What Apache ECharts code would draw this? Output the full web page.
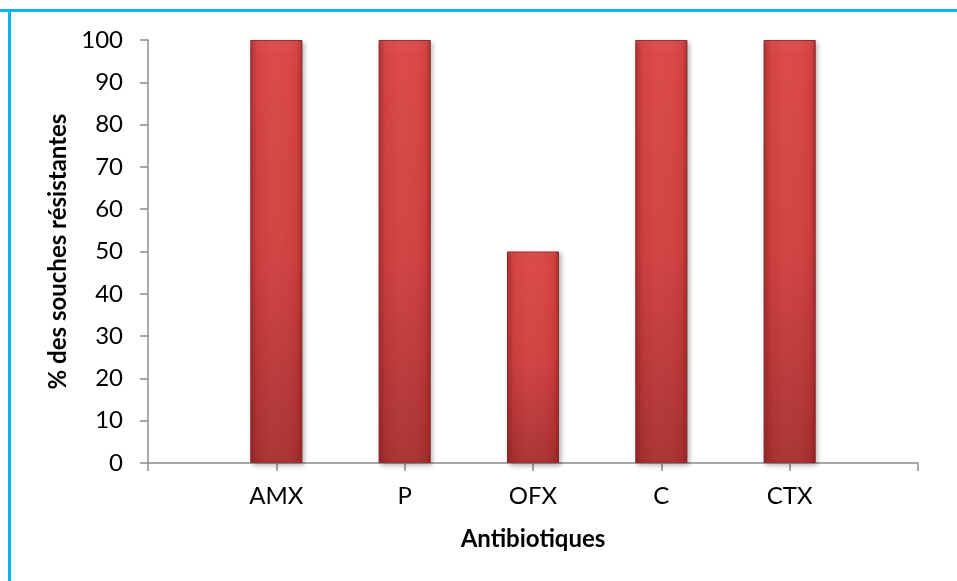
<!DOCTYPE html>
<html>
<head>
<meta charset="utf-8">
<script src="https://cdn.jsdelivr.net/npm/echarts@6/dist/echarts.min.js"></script>
<style>html,body{margin:0;padding:0;background:#fff;}#c{width:957px;height:581px;}</style>
</head>
<body>
<div id="c"></div>
<script>
const categories = ['', 'AMX', 'P', 'OFX', 'C', 'CTX', ''];
const resistance = [null, 100, 100, 50, 100, 100, null];
const yTicks = { min: 0, max: 100, interval: 10 };
const xTitle = 'Antibiotiques';
const yTitle = '% des souches résistantes';

const chart = echarts.init(document.getElementById('c'));
const font = 'Lato, "Open Sans", sans-serif';
chart.setOption({
  animation: false,
  backgroundColor: '#fff',
  grid: { left: 148, right: 39, top: 40, bottom: 118 },
  graphic: [
    { type: 'rect', shape: { x: 0, y: 9, width: 957, height: 3 }, style: { fill: '#0AB4F0' } },
    { type: 'rect', shape: { x: 8, y: 9, width: 3, height: 572 }, style: { fill: '#0AB4F0' } }
  ],
  xAxis: {
    type: 'category',
    data: categories,
    boundaryGap: false,
    name: xTitle,
    nameLocation: 'middle',
    nameGap: 64,
    nameTextStyle: { fontFamily: font, fontSize: 24, fontWeight: 'bold', color: '#000', verticalAlign: 'top' },
    axisLine: { lineStyle: { color: '#8C8C8C', width: 1.5 } },
    axisTick: { show: true, length: 8, interval: 0, lineStyle: { color: '#8C8C8C', width: 1.5 } },
    axisLabel: { interval: 0, margin: 21, fontFamily: font, fontSize: 24, color: '#000' },
    splitLine: { show: false }
  },
  yAxis: {
    type: 'value',
    min: yTicks.min, max: yTicks.max, interval: yTicks.interval,
    name: yTitle,
    nameLocation: 'middle',
    nameRotate: 90,
    nameGap: 76,
    nameTextStyle: { fontFamily: font, fontSize: 24, fontWeight: 'bold', color: '#000' },
    axisLine: { show: true, lineStyle: { color: '#8C8C8C', width: 1.5 } },
    axisTick: { show: true, length: 8, lineStyle: { color: '#8C8C8C', width: 1.5 } },
    axisLabel: { margin: 25, fontFamily: font, fontSize: 24, color: '#000' },
    splitLine: { show: false }
  },
  series: [
    {
      type: 'bar',
      data: resistance,
      barWidth: 52,
      itemStyle: {
        color: new echarts.graphic.LinearGradient(0, 0, 0, 1, [
          { offset: 0, color: '#E25252' },
          { offset: 0.03, color: '#DA4646' },
          { offset: 0.5, color: '#D14040' },
          { offset: 1, color: '#A83131' }
        ]),
        borderColor: '#9E2E2E',
        borderWidth: 1,
        shadowColor: 'rgba(0,0,0,0.3)',
        shadowBlur: 5,
        shadowOffsetX: 2,
        shadowOffsetY: 2
      }
    },
    {
      type: 'bar',
      data: resistance,
      barWidth: 52,
      barGap: '-100%',
      silent: true,
      itemStyle: {
        color: new echarts.graphic.LinearGradient(0, 0, 1, 0, [
          { offset: 0, color: 'rgba(110,20,20,0.35)' },
          { offset: 0.12, color: 'rgba(110,20,20,0.05)' },
          { offset: 0.5, color: 'rgba(255,255,255,0.03)' },
          { offset: 0.88, color: 'rgba(110,20,20,0.05)' },
          { offset: 1, color: 'rgba(110,20,20,0.35)' }
        ])
      }
    }
  ]
});
</script>
</body>
</html>
